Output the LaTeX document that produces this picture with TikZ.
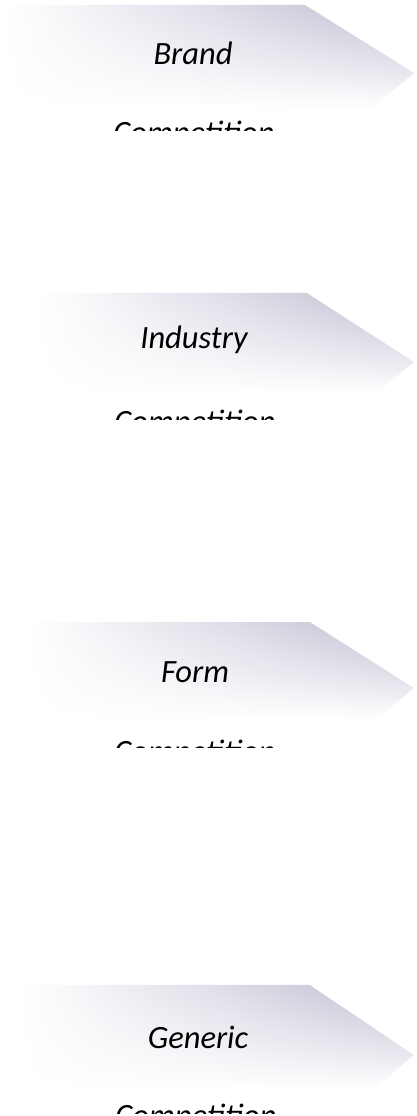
\documentclass[tikz,border=0pt]{standalone}
\usepackage{fontspec}
\setmainfont{Carlito}
\usepackage{xcolor}
\usepackage{tikz}
\usetikzlibrary{positioning, fadings}
\definecolor{chevmid}{RGB}{224,221,232}
\definecolor{chevgray}{RGB}{190,184,206}
\tikzfading[name=chevfade, top color=transparent!0, middle color=transparent!30, bottom color=transparent!100]

\begin{document}
\begin{tikzpicture}[
    x=1pt, y=-1pt,
    chevron/.style={left color=white, right color=chevgray, middle color=chevmid, path fading=chevfade, draw=none},
    level/.style={font=\itshape\fontsize{32.5}{32.5}\selectfont, anchor=base, inner sep=0pt},
    subtext/.style={font=\itshape\fontsize{32.5}{32.5}\selectfont, anchor=base, inner sep=0pt}
]
    \useasboundingbox (0,0) rectangle (416,1116);

    % chevrons
    \shade[chevron] (5,5) -- (305,5) -- (414,73) -- (372,108) -- (5,108) -- cycle;
    \shade[chevron] (40,293) -- (307,293) -- (414,362) -- (376,394) -- (40,394) -- cycle;
    \shade[chevron] (30,622) -- (310,622) -- (414,688) -- (376,720) -- (30,720) -- cycle;
    \shade[chevron] (20,985) -- (310,985) -- (414,1055) -- (374,1090) -- (20,1090) -- cycle;

    % labels
    \node[level] (brand) at (193,64) {Brand};
    \node[level] (industry) at (194,348) {Industry};
    \node[level] (form) at (195,682) {Form};
    \node[level] (generic) at (198,1048) {Generic};

    % second lines, cut off
    \begin{scope}
        \clip (0,0) rectangle (416,130.5);
        \node[subtext] (brandsub) at (194,143.6) {Competition};
    \end{scope}
    \begin{scope}
        \clip (0,300) rectangle (416,419.5);
        \node[subtext] (industrysub) at (195,432.6) {Competition};
    \end{scope}
    \begin{scope}
        \clip (0,700) rectangle (416,747);
        \node[subtext] (formsub) at (195,762.6) {Competition};
    \end{scope}
    \begin{scope}
        \clip (0,1060) rectangle (416,1113);
        \node[subtext] (genericsub) at (196,1126) {Competition};
    \end{scope}
\end{tikzpicture}
\end{document}
